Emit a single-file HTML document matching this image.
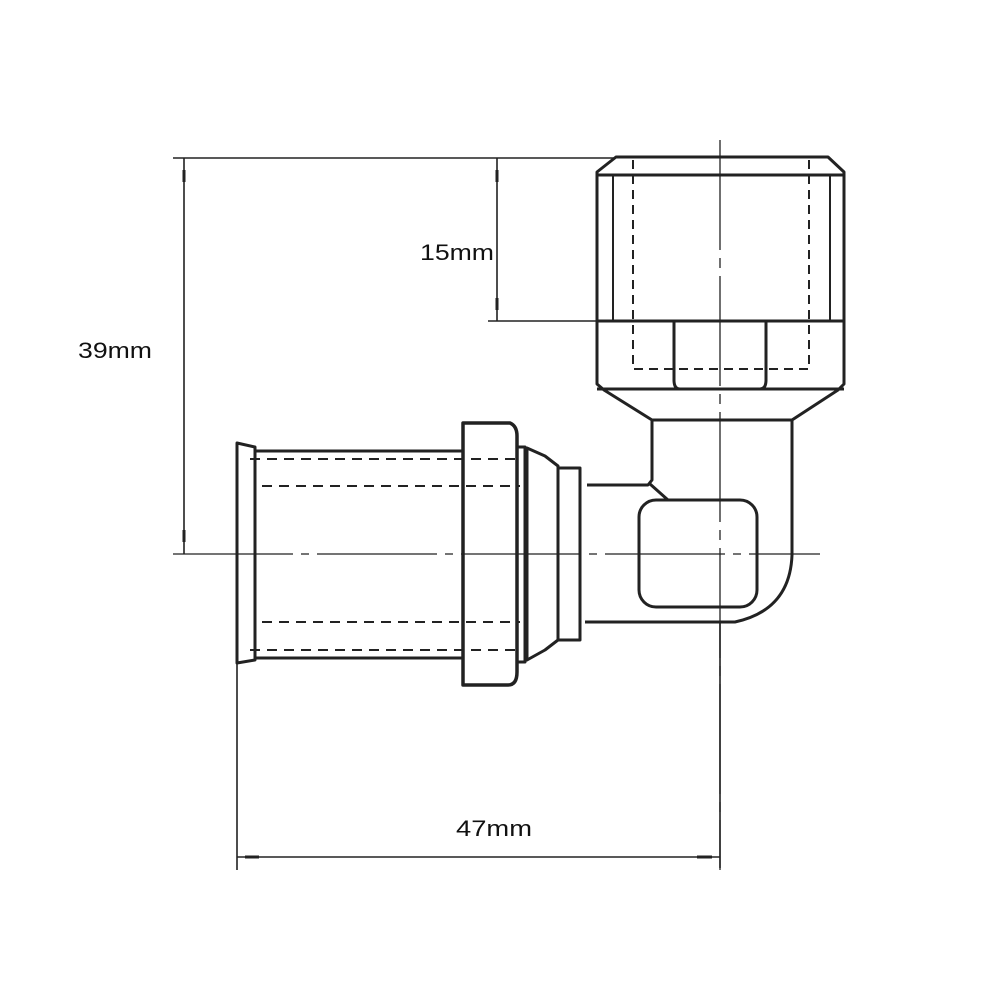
<!DOCTYPE html>
<html><head><meta charset="utf-8"><style>html,body{margin:0;padding:0;background:#fff}svg{display:block}</style></head>
<body>
<svg width="1000" height="1000" viewBox="0 0 1000 1000" xmlns="http://www.w3.org/2000/svg" font-family="Liberation Sans, sans-serif">
<g fill="none" stroke="#222" stroke-linejoin="round">
<!-- dimension lines -->
<g stroke-width="1.6">
<line x1="173" y1="158" x2="616" y2="158"/>
<line x1="184" y1="158" x2="184" y2="554"/>
<line x1="497" y1="158" x2="497" y2="321"/>
<line x1="488" y1="321" x2="597" y2="321"/>
<line x1="237" y1="663" x2="237" y2="870"/>
<line x1="720" y1="622" x2="720" y2="868"/>
<line x1="237" y1="857" x2="720" y2="857"/>
</g>
<g stroke-width="3">
<line x1="184" y1="170" x2="184" y2="182"/>
<line x1="497" y1="170" x2="497" y2="182"/>
<line x1="497" y1="298" x2="497" y2="310"/>
<line x1="245" y1="857" x2="259" y2="857"/>
<line x1="697" y1="857" x2="712" y2="857"/>
<line x1="184" y1="530" x2="184" y2="542"/>
</g>
<!-- center lines -->
<g stroke-width="1.3">
<line x1="173" y1="554" x2="820" y2="554" stroke-dasharray="120 8 8 8"/>
<line x1="720" y1="140" x2="720" y2="870" stroke-dasharray="110 8 10 8"/>
</g>
<!-- top nut -->
<g stroke-width="3">
<path d="M616 157 L828 157 L844 172 L844 384 L838 390 L792 420 L652 420 L604 390 L597 384 L597 172 Z"/>
<line x1="597" y1="175" x2="844" y2="175"/>
<line x1="597" y1="321" x2="844" y2="321"/>
<path d="M674 321 L674 380 Q674 389 680 389"/>
<path d="M766 321 L766 380 Q766 389 760 389"/>
<line x1="597" y1="389" x2="844" y2="389"/>
</g>
<g stroke-width="2">
<line x1="613" y1="175" x2="613" y2="321"/>
<line x1="830" y1="175" x2="830" y2="321"/>
<path d="M633 160 L633 369 L809 369 L809 160" stroke-dasharray="9 6"/>
</g>
<!-- elbow body -->
<g stroke-width="3">
<path d="M652 420 L652 480 L648 485 L587 485"/>
<line x1="650" y1="484" x2="668" y2="500"/>
<path d="M792 420 L792 555 Q790 610 735 622 L585 622"/>
<rect x="639" y="500" width="118" height="107" rx="17"/>
</g>
<!-- left pipe section -->
<g stroke-width="3">
<path d="M237 443 L237 663 L255 660 L255 447 Z"/>
<line x1="255" y1="451" x2="463" y2="451"/>
<line x1="255" y1="658" x2="463" y2="658"/>
<path d="M463 423 L510 423 Q517 426 517 436 L517 672 Q517 685 508 685 L463 685 Z" stroke-width="3.5"/>
<rect x="517" y="447" width="8" height="215"/>
<path d="M527 448 L545 456 L558 466 L558 640 L545 650 L527 660 Z"/>
<rect x="558" y="468" width="22" height="172"/>
</g>
<g stroke-width="2" stroke-dasharray="10 7">
<line x1="250" y1="459" x2="520" y2="459"/>
<line x1="262" y1="486" x2="520" y2="486"/>
<line x1="262" y1="622" x2="520" y2="622"/>
<line x1="250" y1="650" x2="520" y2="650"/>
</g>
</g>
<g fill="#111" font-size="22">
<text x="78" y="358" textLength="74" lengthAdjust="spacingAndGlyphs">39mm</text>
<text x="420" y="260" textLength="74" lengthAdjust="spacingAndGlyphs">15mm</text>
<text x="456" y="836" textLength="76" lengthAdjust="spacingAndGlyphs">47mm</text>
</g>
</svg>
</body></html>
